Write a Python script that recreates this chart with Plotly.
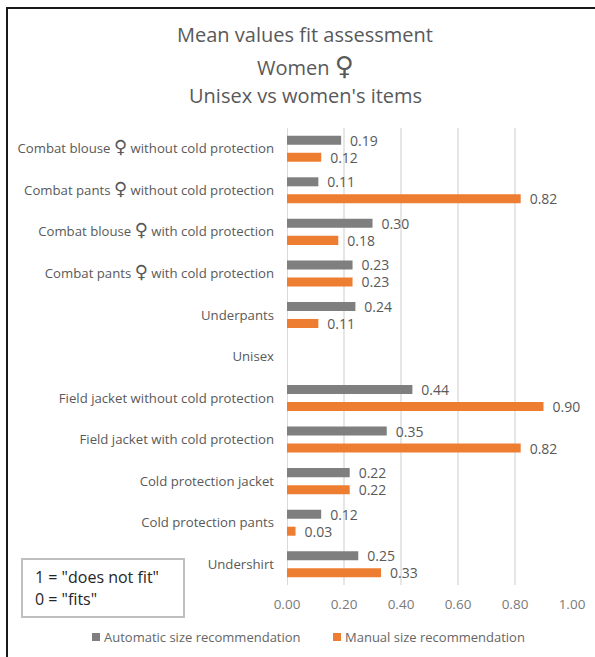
import plotly.graph_objects as go

W, H = 595, 657
PLOT_L, PLOT_R, PLOT_T, PLOT_B = 287, 572, 128, 585

categories = [
    "Combat blouse ♀ without cold protection",
    "Combat pants ♀ without cold protection",
    "Combat blouse ♀ with cold protection",
    "Combat pants ♀ with cold protection",
    "Underpants",
    "Unisex",
    "Field jacket without cold protection",
    "Field jacket with cold protection",
    "Cold protection jacket",
    "Cold protection pants",
    "Undershirt",
]
automatic = [0.19, 0.11, 0.30, 0.23, 0.24, None, 0.44, 0.35, 0.22, 0.12, 0.25]
manual = [0.12, 0.82, 0.18, 0.23, 0.11, None, 0.90, 0.82, 0.22, 0.03, 0.33]
x_ticks = [0, 0.2, 0.4, 0.6, 0.8, 1.0]
title_lines = ["Mean values fit assessment", "Women ♀", "Unisex vs women's items"]

GRAY = "#7f7f7f"
ORANGE = "#ed7d31"
TEXT = "#595959"
FONT = "Open Sans"
GLYPH = '<span style="font-family:DejaVu Sans;font-size:{}px">♀</span>'


def px(v):
    """Window pixel to plot-relative x."""
    return (v - PLOT_L) / (PLOT_R - PLOT_L)


def py(v):
    """Window pixel to plot-relative y."""
    return 1 - (v - PLOT_T) / (PLOT_B - PLOT_T)


fig = go.Figure()
for name, values, color in [
    ("Automatic size recommendation", automatic, GRAY),
    ("Manual size recommendation", manual, ORANGE),
]:
    fig.add_trace(go.Bar(
        y=categories, x=values, name=name, orientation="h",
        marker=dict(color=color, line_width=0),
        text=[None if v is None else f"\u00a0\u2009{v:.2f}" for v in values],
        textposition="outside", cliponaxis=False, constraintext="none",
        textfont=dict(size=14, color=TEXT, family=FONT),
        showlegend=False,
    ))

annotations = [
    dict(text=line.replace("♀", GLYPH.format(26)), x=px(305), y=py(cy),
         xref="paper", yref="paper", showarrow=False,
         xanchor="center", yanchor="middle",
         font=dict(size=20, color=TEXT, family=FONT))
    for line, cy in zip(title_lines, [35, 66, 95])
]
annotations += [
    dict(text=line, x=px(33), y=py(cy), xref="paper", yref="paper",
         showarrow=False, xanchor="left", yanchor="middle",
         font=dict(size=16, color="#262626", family=FONT))
    for line, cy in [('1 = "does not fit"', 577), ('0 = "fits"', 599)]
]
# Legend row below the axis: colour swatch followed by the series name
legend_rows = [
    ("Automatic size recommendation", GRAY, 92),
    ("Manual size recommendation", ORANGE, 333),
]
annotations += [
    dict(text=name, x=px(left + 10), y=py(637), xref="paper", yref="paper",
         showarrow=False, xanchor="left", yanchor="middle",
         font=dict(size=13, color="#666666", family=FONT))
    for name, _, left in legend_rows
]

shapes = [
    dict(type="rect", xref="paper", yref="paper", layer="below",
         x0=px(7), x1=px(600), y0=py(8), y1=py(670),
         line=dict(color="#1a1a1a", width=2), fillcolor="white"),
    dict(type="rect", xref="paper", yref="paper", layer="above",
         x0=px(22), x1=px(184), y0=py(559), y1=py(617),
         line=dict(color="#bfbfbf", width=2), fillcolor="white"),
]
shapes += [
    dict(type="rect", xref="paper", yref="paper", layer="above",
         x0=px(left), x1=px(left + 8), y0=py(633), y1=py(641),
         line_width=0, fillcolor=color)
    for _, color, left in legend_rows
]

fig.update_layout(
    width=W, height=H, autosize=False,
    margin=dict(l=PLOT_L, r=W - PLOT_R, t=PLOT_T, b=H - PLOT_B, autoexpand=False),
    paper_bgcolor="white", plot_bgcolor="rgba(0,0,0,0)",
    barmode="group", bargap=0.18, bargroupgap=0.47,
    font=dict(family=FONT, color=TEXT),
    annotations=annotations, shapes=shapes, showlegend=False,
    xaxis=dict(range=[0, 1], tickvals=x_ticks, tickformat=".2f",
               showgrid=True, gridcolor="#e6e6e6", gridwidth=1.5,
               zeroline=True, zerolinecolor="#d9d9d9", zerolinewidth=1,
               tickfont=dict(size=13.5, color="#7a7a7a", family=FONT), ticks="",
               ticklabelstandoff=9),
    yaxis=dict(autorange="reversed", showgrid=False, ticks="", showline=False,
               tickvals=categories,
               ticktext=[c.replace("♀", GLYPH.format(18)) for c in categories],
               tickfont=dict(size=13.2, color=TEXT, family=FONT), ticklabelstandoff=12),
)

fig.write_html("out.html")
